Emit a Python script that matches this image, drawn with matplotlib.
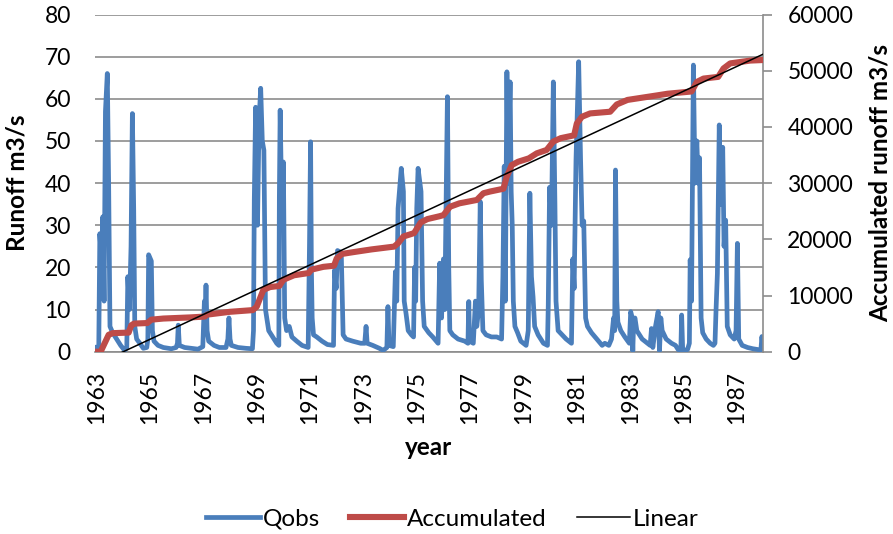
import matplotlib
matplotlib.use("Agg")
import matplotlib.pyplot as plt
from matplotlib.lines import Line2D

# ---------------- data ----------------
qobs_year = [
    1962.92, 1963.08, 1963.12, 1963.18, 1963.23, 1963.28, 1963.33, 1963.40, 1963.45, 1963.50,
    1963.60, 1963.75, 1963.90, 1964.05, 1964.13, 1964.17, 1964.23, 1964.29, 1964.34, 1964.39,
    1964.43, 1964.50, 1964.62, 1964.75, 1964.88, 1964.92, 1964.95, 1965.05, 1965.09, 1965.15,
    1965.30, 1965.50, 1965.80, 1965.98, 1966.03, 1966.06, 1966.10, 1966.30, 1966.55, 1966.80,
    1966.98, 1967.04, 1967.07, 1967.10, 1967.14, 1967.20, 1967.40, 1967.60, 1967.85, 1967.92,
    1967.96, 1968.00, 1968.05, 1968.30, 1968.60, 1968.84, 1968.88, 1968.91, 1968.96, 1969.03,
    1969.09, 1969.15, 1969.21, 1969.27, 1969.33, 1969.45, 1969.60, 1969.75, 1969.83, 1969.85,
    1969.88, 1969.95, 1970.00, 1970.05, 1970.12, 1970.22, 1970.32, 1970.50, 1970.70, 1970.93,
    1970.98, 1971.02, 1971.05, 1971.08, 1971.13, 1971.25, 1971.45, 1971.65, 1971.88, 1971.92,
    1971.98, 1972.03, 1972.17, 1972.24, 1972.35, 1972.60, 1972.90, 1973.05, 1973.10, 1973.14,
    1973.35, 1973.60, 1973.74, 1973.88, 1973.92, 1973.96, 1974.12, 1974.20, 1974.25, 1974.30,
    1974.42, 1974.50, 1974.53, 1974.60, 1974.68, 1974.80, 1974.88, 1974.92, 1974.96, 1975.00,
    1975.05, 1975.16, 1975.22, 1975.28, 1975.45, 1975.60, 1975.80, 1975.86, 1975.93, 1976.00,
    1976.05, 1976.15, 1976.20, 1976.24, 1976.35, 1976.55, 1976.80, 1976.92, 1976.95, 1976.98,
    1977.12, 1977.20, 1977.25, 1977.32, 1977.38, 1977.42, 1977.48, 1977.60, 1977.80, 1978.00,
    1978.18, 1978.23, 1978.28, 1978.32, 1978.38, 1978.42, 1978.50, 1978.54, 1978.58, 1978.62,
    1978.68, 1978.78, 1978.90, 1979.10, 1979.18, 1979.24, 1979.30, 1979.36, 1979.42, 1979.55,
    1979.75, 1979.90, 1979.93, 1979.98, 1980.05, 1980.12, 1980.18, 1980.22, 1980.30, 1980.45,
    1980.60, 1980.80, 1980.85, 1980.90, 1980.97, 1981.07, 1981.14, 1981.20, 1981.26, 1981.33,
    1981.40, 1981.55, 1981.75, 1981.95, 1982.05, 1982.20, 1982.30, 1982.38, 1982.42, 1982.45,
    1982.50, 1982.54, 1982.65, 1982.80, 1982.97, 1983.02, 1983.06, 1983.10, 1983.13, 1983.18,
    1983.25, 1983.45, 1983.65, 1983.75, 1983.80, 1983.85, 1983.95, 1984.05, 1984.10, 1984.15,
    1984.20, 1984.35, 1984.55, 1984.70, 1984.80, 1984.90, 1984.93, 1984.97, 1985.15, 1985.22,
    1985.25, 1985.30, 1985.37, 1985.43, 1985.50, 1985.55, 1985.60, 1985.66, 1985.72, 1985.85,
    1986.00, 1986.12, 1986.18, 1986.22, 1986.27, 1986.34, 1986.40, 1986.47, 1986.52, 1986.58,
    1986.64, 1986.75, 1986.90, 1986.97, 1987.02, 1987.07, 1987.20, 1987.40, 1987.60, 1987.80,
    1987.90, 1987.94, 1987.98,
]
qobs_value = [
    1.0, 1.2, 28, 22, 32, 12, 57, 66, 40, 6,
    4.5, 3, 1.5, 0.3, 1, 17.8, 10, 25, 56.5, 33.6,
    6, 3, 2, 0.8, 1.0, 3, 23, 21.5, 5, 2.5,
    1.5, 1.0, 0.7, 1.0, 2, 6.3, 1.5, 1.0, 0.8, 0.6,
    1.2, 12, 9, 15.8, 5, 2.5, 1.5, 1.0, 1.0, 3,
    8, 3, 1.5, 1.0, 0.8, 0.7, 5, 36, 58, 30,
    55, 62.5, 50, 47.8, 10, 5, 3.5, 2, 1.5, 37,
    57.3, 30, 45, 8, 5, 6, 3.5, 2.5, 1.5, 1.0,
    25.7, 49.8, 20, 8, 4, 3.5, 2.5, 1.7, 1.5, 19.4,
    15, 24, 23.5, 4, 3, 2.5, 2, 2, 6, 2,
    1.5, 0.8, 0.3, 1, 10.7, 1.5, 1.2, 19, 12, 34,
    43.5, 38, 12, 9, 5, 4, 3.5, 20, 12, 34,
    43.5, 38, 12, 6, 4.5, 3.5, 2, 21, 8, 22,
    10, 60.5, 20, 5, 4, 3, 2.5, 2, 11.9, 2.5,
    2, 12, 6, 10, 35.6, 17, 5, 4, 3.5, 3.5,
    3, 18, 44, 12, 66.4, 40, 64, 38, 30, 12,
    6, 4.5, 2.5, 1.5, 5, 37.6, 17.8, 13, 6, 4,
    2, 1.5, 11, 39, 30, 64, 35, 12, 5, 4,
    3, 2, 22, 15, 45.5, 68.8, 46, 30, 31, 8,
    6, 4.5, 3, 1.5, 2, 1.5, 3, 8, 5, 43.1,
    12, 7, 5, 3.5, 2, 9.5, 8.5, 0.2, 7, 8,
    5, 3, 2, 1.5, 5.5, 1, 6, 9.5, 0.2, 8,
    5, 3, 2, 1.5, 0.5, 0.3, 8.7, 0.3, 0.5, 2,
    21.8, 12, 68, 40, 50, 40, 46, 8, 4.5, 3,
    2, 1.5, 2, 10, 18.5, 53.8, 35, 48.5, 25, 31.2,
    6, 4, 3, 5, 25.7, 3, 1.5, 1, 0.7, 0.5,
    0.4, 3.6, 0.8,
]

acc_year = [
    1962.92, 1963.15, 1963.30, 1963.45, 1963.60, 1964.20, 1964.30, 1964.40, 1964.90, 1965.05,
    1965.50, 1966.50, 1967.05, 1967.15, 1968.00, 1968.85, 1969.00, 1969.25, 1969.50, 1969.85,
    1970.00, 1970.40, 1970.95, 1971.05, 1971.50, 1971.90, 1972.00, 1972.20, 1972.60, 1973.30,
    1974.15, 1974.30, 1974.50, 1974.90, 1975.15, 1975.40, 1975.85, 1976.00, 1976.25, 1976.60,
    1977.25, 1977.50, 1977.75, 1978.25, 1978.37, 1978.56, 1978.80, 1979.20, 1979.50, 1979.87,
    1980.12, 1980.40, 1980.90, 1981.00, 1981.19, 1981.50, 1982.25, 1982.50, 1982.90, 1984.00,
    1984.40, 1985.30, 1985.50, 1985.75, 1986.30, 1986.50, 1986.75, 1987.50, 1987.98,
]
acc_value = [
    0, 0, 1500, 3000, 3300, 3400, 4700, 5000, 5100, 5700,
    5900, 6100, 6250, 6600, 7100, 7400, 8000, 11000, 11500, 11700,
    12800, 13600, 14000, 14600, 15100, 15300, 16600, 17400, 17700, 18200,
    18700, 19300, 20500, 21100, 23000, 23600, 24100, 24300, 25800, 26400,
    27000, 28200, 28500, 29000, 31100, 33200, 33800, 34400, 35300, 35900,
    37400, 38000, 38500, 40600, 41800, 42400, 42700, 44000, 44800, 45600,
    45900, 46300, 48000, 48600, 48900, 50400, 51300, 51800, 51900,
]

# linear trend of the accumulated series (end values)
linear_year = [1962.92, 1987.98]
linear_value = [-2384, 52925]

x_ticks = list(range(1963, 1988, 2))
left_ticks = list(range(0, 81, 10))
right_ticks = list(range(0, 60001, 10000))

# ---------------- styling ----------------
BLUE = "#4A7EBB"
RED = "#BE4B48"
GRID = "#8C8C8C"
FONT = ["Lato", "DejaVu Sans"]
plt.rcParams["font.family"] = FONT
TICK_FS = 16.5
LABEL_FS = 17.5
LEG_FS = 17.5

W, H = 893, 534
fig = plt.figure(figsize=(W / 100, H / 100), dpi=100)
left_px, right_px, top_px, bot_px = 94.5, 763, 14.5, 351.7
ax_w = right_px - left_px
ax_h = bot_px - top_px
ax = fig.add_axes([left_px / W, 1 - bot_px / H, ax_w / W, ax_h / H])

ax.plot(qobs_year, qobs_value, color=BLUE, lw=3.4, solid_joinstyle="round", zorder=3)
ax.set_xlim(1962.92, 1987.98)
ax.set_ylim(0, 80)
ax.set_yticks(left_ticks)
ax.set_xticks(x_ticks)
ax.set_xticklabels([str(t) for t in x_ticks], rotation=90)
ax.grid(axis="y", color=GRID, lw=1.2)
ax.set_axisbelow(True)
for s in ("left", "top", "right"):
    ax.spines[s].set_visible(False)
ax.spines["bottom"].set_color(GRID)
ax.spines["bottom"].set_linewidth(1.2)
ax.tick_params(axis="y", length=0, pad=17, labelsize=TICK_FS)
ax.tick_params(axis="x", length=0, pad=14, labelsize=TICK_FS)
ax.set_ylabel("Runoff m3/s", fontsize=LABEL_FS, fontweight="bold")
ax.yaxis.set_label_coords((28 - left_px) / ax_w, 0.5)
ax.set_xlabel("year", fontsize=LABEL_FS, fontweight="bold")
ax.xaxis.set_label_coords(0.5, (bot_px - 436) / ax_h)

ax2 = ax.twinx()
ax2.plot(acc_year, acc_value, color=RED, lw=4.4, solid_joinstyle="round", zorder=3)
ax2.plot(linear_year, linear_value, color="black", lw=1.1, zorder=4)
ax2.set_ylim(0, 60000)
ax2.set_yticks(right_ticks)
for s in ("left", "top", "bottom"):
    ax2.spines[s].set_visible(False)
ax2.spines["right"].set_color(GRID)
ax2.spines["right"].set_linewidth(1.2)
ax2.tick_params(axis="y", direction="out", length=6.5, width=1.2, color=GRID, pad=11, labelsize=TICK_FS)
ax2.set_ylabel("Accumulated runoff m3/s", fontsize=LABEL_FS, fontweight="bold")
ax2.yaxis.set_label_coords((869 - left_px) / ax_w, 0.5)

handles = [
    Line2D([], [], color=BLUE, lw=3.4),
    Line2D([], [], color=RED, lw=4.4),
    Line2D([], [], color="black", lw=1.1),
]
fig.legend(handles, ["Qobs", "Accumulated", "Linear"], loc="center",
           bbox_to_anchor=(452.5 / W, 1 - 519 / H), ncol=3, frameon=False,
           fontsize=LEG_FS, handlelength=2.2, handletextpad=0.12, columnspacing=1.25)

fig.savefig("out.png", dpi=100)
